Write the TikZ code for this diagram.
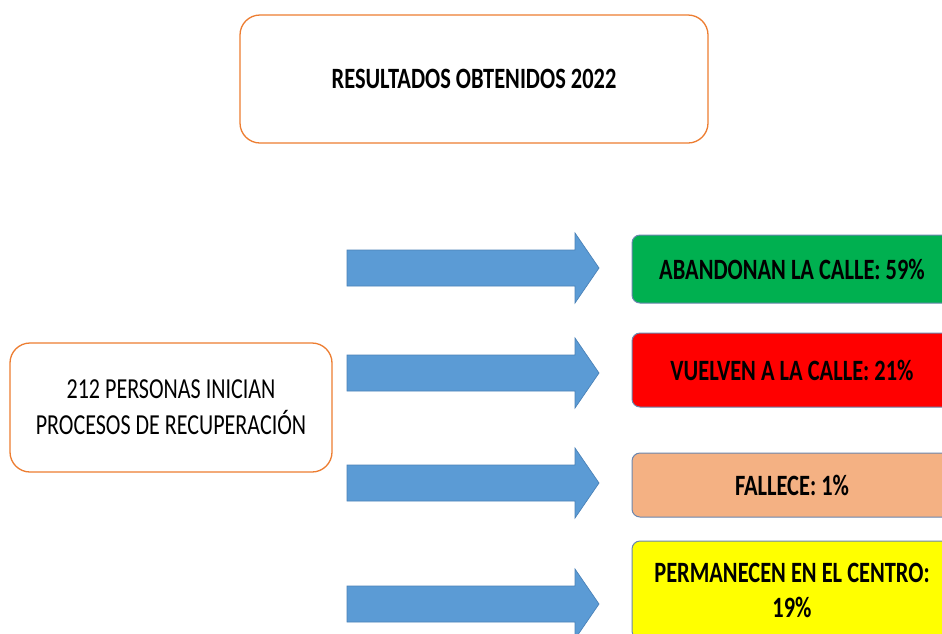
\documentclass[tikz,border=0pt]{standalone}
\usepackage{fontspec}
\setmainfont[FakeStretch=0.76]{Carlito}
\definecolor{boxorange}{HTML}{ED7D31}
\definecolor{arrowblue}{HTML}{5B9BD5}
\definecolor{arrowedge}{HTML}{4A82B8}
\definecolor{boxedge}{HTML}{6A86AE}
\definecolor{okgreen}{HTML}{00B050}
\definecolor{badred}{HTML}{FF0000}
\definecolor{peach}{HTML}{F4B183}
\definecolor{brightyellow}{HTML}{FFFF00}
\tikzset{
  orangebox/.style={draw=boxorange, line width=1.3pt, rounded corners=20pt, fill=white, align=center, inner sep=0pt},
  resultbox/.style={draw=boxedge, line width=1pt, rounded corners=8pt, minimum width=320pt, align=center, inner sep=0pt, font=\fontsize{29.5}{35}\selectfont\bfseries},
  blockarrow/.style={fill=arrowblue, draw=arrowedge, line width=0.7pt, line join=miter}
}
\newcommand\blockarr[2]{%
  \draw[blockarrow] (347,#2-18) coordinate (#1) -- (575,#2-18) -- (575,#2-35) -- (599,#2) -- (575,#2+35) -- (575,#2+18) -- (347,#2+18) -- cycle;}
\begin{document}
\begin{tikzpicture}[x=1pt,y=-1pt]
\clip (0,0) rectangle (942,633);
\fill[white] (0,0) rectangle (942,633);
\node[orangebox, minimum width=468pt, minimum height=128pt, font=\fontsize{29.5}{35}\selectfont\bfseries] (title) at (474,79) {RESULTADOS OBTENIDOS 2022};
\node[orangebox, minimum width=322pt, minimum height=129pt, font=\fontsize{29}{36}\selectfont] (start) at (171,407.5) {212 PERSONAS INICIAN\\PROCESOS DE RECUPERACIÓN};
\blockarr{a1}{268}
\blockarr{a2}{373}
\blockarr{a3}{483}
\blockarr{a4}{604}
\node[resultbox, fill=okgreen, minimum height=68pt] (r1) at (792,269) {ABANDONAN LA CALLE: 59\%};
\node[resultbox, fill=badred, minimum height=74pt] (r2) at (792,370) {VUELVEN A LA CALLE: 21\%};
\node[resultbox, fill=peach, minimum height=64pt] (r3) at (792,485) {FALLECE: 1\%};
\node[resultbox, fill=brightyellow, minimum height=98pt] (r4) at (792,590) {PERMANECEN EN EL CENTRO:\\19\%};
\end{tikzpicture}
\end{document}
